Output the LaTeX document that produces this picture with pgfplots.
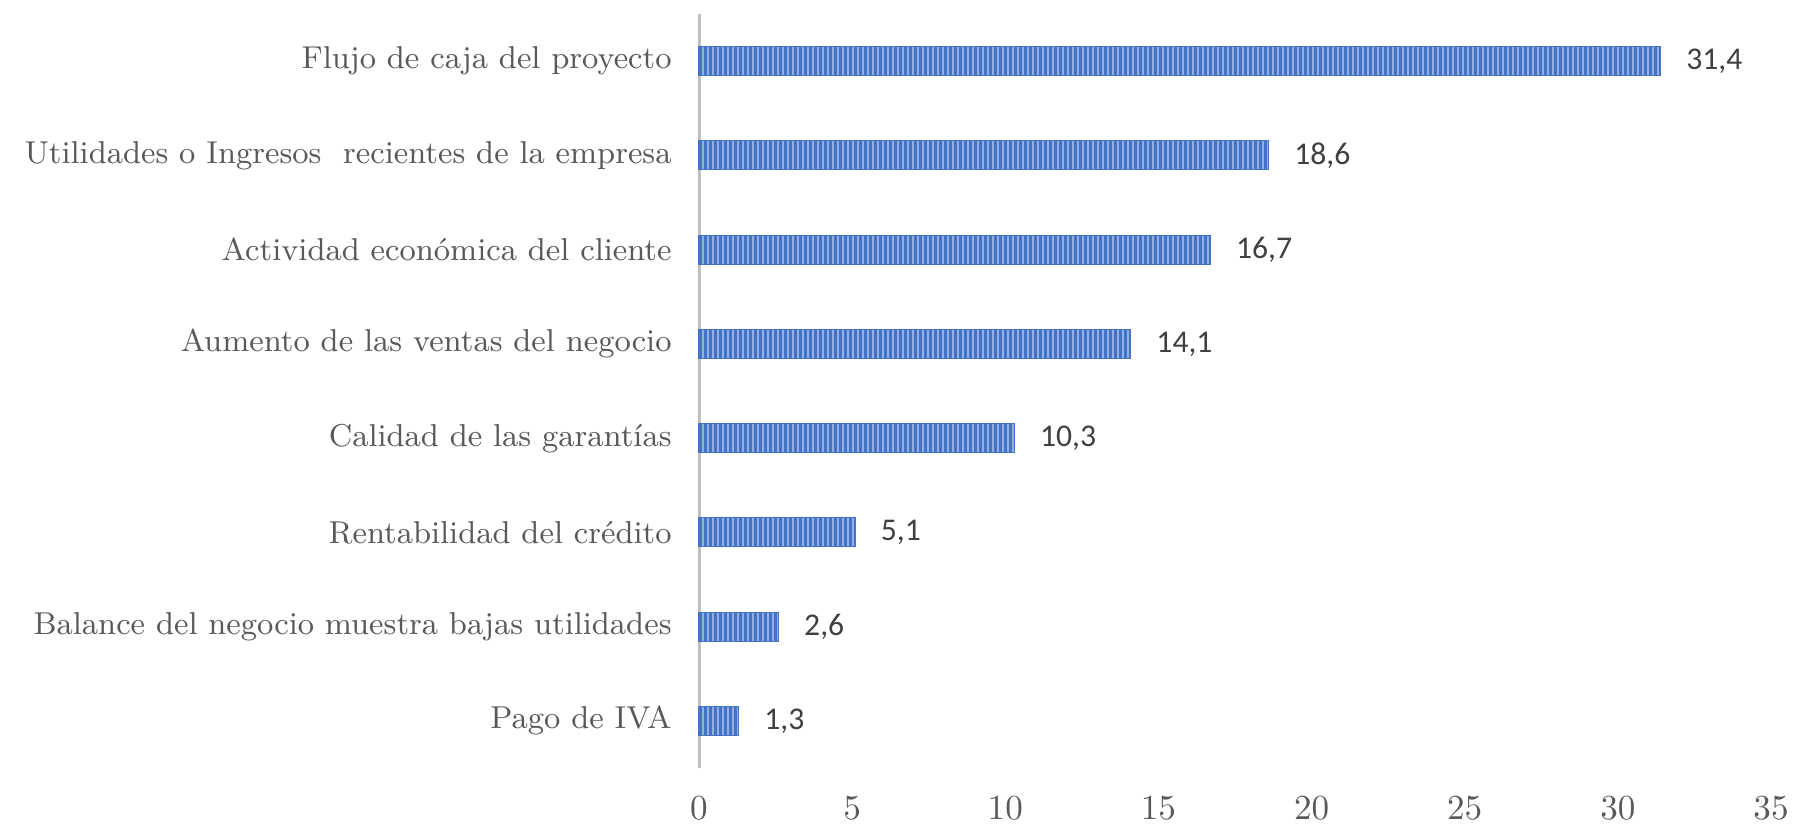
\documentclass[border=0pt]{standalone}
\usepackage{fontspec}
\usepackage{pgfplots}
\pgfplotsset{compat=1.18}
\usetikzlibrary{patterns.meta}
\newfontfamily\calibri{Carlito}
\definecolor{barblue}{HTML}{4472C4}
\definecolor{barlight}{HTML}{93AEE0}
\definecolor{txtgray}{HTML}{595959}
\definecolor{lblgray}{HTML}{404040}
\definecolor{axgray}{HTML}{BFBFBF}
\begin{document}
\begin{tikzpicture}[x=1mm,y=1mm]
\useasboundingbox (0,0) rectangle (180.3,82.5);
\begin{axis}[
  at={(69.9mm,5.7mm)}, anchor=south west,
  scale only axis,
  width=107.2mm, height=75.4mm,
  xbar, bar width=2.9mm,
  xmin=0, xmax=35,
  ymin=-0.5, ymax=7.5,
  xtick={0,5,...,35},
  ytick={0,...,7},
  yticklabels={Pago de IVA,
    Balance del negocio muestra bajas utilidades,
    Rentabilidad del crédito,
    Calidad de las garantías,
    Aumento de las ventas del negocio,
    Actividad económica del cliente,
    Utilidades o Ingresos\ \ recientes de la empresa,
    Flujo de caja del proyecto},
  axis lines*=left,
  x axis line style={draw=none},
  y axis line style={draw=axgray, line width=0.3mm},
  major tick length=0pt,
  yticklabel style={font=\fontsize{9}{11}\selectfont, text=txtgray, xshift=-1.5mm},
  xticklabel style={font=\fontsize{10}{12}\selectfont, text=txtgray, yshift=-1.6mm},
  nodes near coords={\pgfmathprintnumber[fixed,fixed zerofill,precision=1,use comma,assume math mode=true]{\pgfplotspointmeta}},
  nodes near coords style={font=\calibri\fontsize{9}{11}\selectfont, text=lblgray, anchor=west, inner sep=0pt, xshift=2.5mm},
  clip=false,
]
\addplot[draw=barblue, line width=0.12mm, fill=barlight,
  postaction={pattern={Lines[angle=90,distance=0.5mm,line width=0.3mm]}, pattern color=barblue}]
  coordinates {(1.3,0) (2.6,1) (5.1,2) (10.3,3) (14.1,4) (16.7,5) (18.6,6) (31.4,7)};
\end{axis}
\end{tikzpicture}
\end{document}
